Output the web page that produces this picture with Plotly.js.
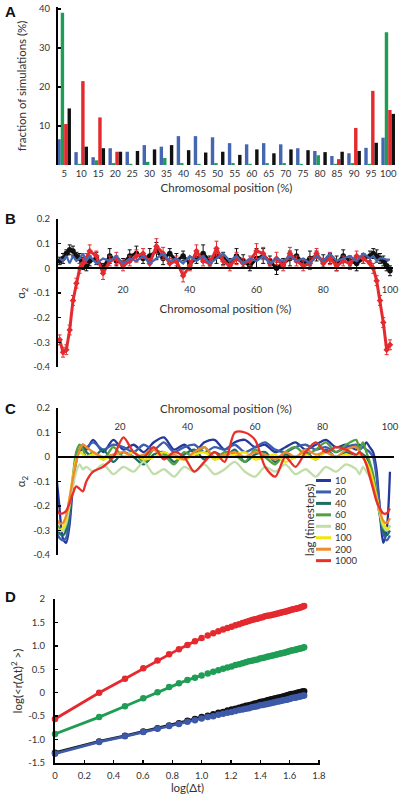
<!DOCTYPE html>
<html><head><meta charset="utf-8">
<script src="https://cdn.plot.ly/plotly-3.0.1.min.js"></script>
<style>html,body{margin:0;padding:0;background:#fff;}#chart{width:400px;height:796px;}</style>
</head><body><div id="chart"></div>
<script>
// ---------- Panel A data ----------
const posA = [5,10,15,20,25,30,35,40,45,50,55,60,65,70,75,80,85,90,95,100];
const blueA = [6.6,3.3,2.0,4.3,3.4,5.1,4.7,7.4,7.4,7.1,5.6,5.3,5.6,5.3,4.3,3.6,2.3,3.0,4.4,7.0];
const greenA = [39,0.3,1.2,0.5,0.3,0.8,1.8,0.5,0.3,0.5,0.5,0.3,0.5,0.5,0.3,2.5,0.3,0.5,0.3,34];
const redA = [10.5,21.5,12.2,3.4,0,0,0,0,0,0,0,0,0,0,0,0,1.5,9.5,19,14.1];
const blackA = [14.5,4.7,4.3,3.4,3.6,4.0,5.1,3.8,3.2,3.4,2.6,4.0,3.0,4.0,3.8,3.3,3.4,3.6,5.7,13.1];

// ---------- Panel B data ----------
const xB = [1,2,3,4,5,6,7,8,9,10,12,14,16,18,20,22,24,26,28,30,32,34,36,38,40,42,44,46,48,50,52,54,56,58,60,62,64,66,68,70,72,74,76,78,80,82,84,86,88,90,92,94,95,96,97,98,99,100];
const blackB = [0.03,0.04,0.06,0.075,0.07,0.05,0.04,0.02,0.01,0.03,
  0.04,0.0,0.05,0.03,0.02,0.05,0.06,0.04,0.05,0.07,
  0.04,0.06,0.03,0.05,0.02,0.04,0.06,0.03,0.05,0.04,
  0.02,0.05,0.03,0.01,0.04,0.05,0.03,0.0,0.02,0.04,
  0.05,0.02,0.04,0.05,0.03,0.04,0.02,0.05,0.03,0.02,0.04,
  0.05,0.06,0.05,0.04,0.03,0.01,-0.01];
const blackErrB = [0.015,0.02,0.015,0.02,0.02,0.015,0.02,0.025,0.02,0.02,
  0.025,0.02,0.03,0.02,0.02,0.025,0.03,0.02,0.03,0.035,
  0.025,0.02,0.03,0.02,0.025,0.02,0.035,0.02,0.03,0.025,
  0.02,0.03,0.025,0.02,0.04,0.03,0.02,0.025,0.02,0.03,
  0.025,0.02,0.03,0.02,0.025,0.02,0.03,0.025,0.02,0.03,0.02,
  0.02,0.02,0.025,0.02,0.02,0.02,0.02];
const redB = [-0.29,-0.34,-0.33,-0.25,-0.13,-0.06,0.0,0.02,0.04,0.07,
  0.05,-0.02,0.03,0.04,0.01,0.03,0.05,0.06,0.02,0.09,
  0.06,0.02,0.03,-0.03,0.01,0.07,0.03,0.02,0.08,0.03,
  0.01,0.04,0.02,0.03,0.07,0.06,0.02,0.04,0.01,0.06,
  0.03,0.01,0.02,0.06,0.02,0.04,0.01,0.03,0.02,0.05,0.04,
  0.02,0.0,-0.05,-0.13,-0.22,-0.33,-0.31];
const redErrB = [0.02,0.02,0.02,0.02,0.02,0.02,0.02,0.02,0.02,0.025,
  0.02,0.025,0.02,0.025,0.02,0.02,0.025,0.02,0.02,0.03,
  0.025,0.02,0.02,0.025,0.02,0.025,0.02,0.02,0.03,0.02,
  0.02,0.025,0.02,0.02,0.03,0.025,0.02,0.025,0.02,0.025,
  0.02,0.02,0.025,0.02,0.02,0.025,0.02,0.02,0.025,0.02,0.02,
  0.02,0.02,0.02,0.02,0.02,0.02,0.02];
const blueB = [0.04,0.03,0.05,0.02,0.05,0.03,0.04,0.06,0.03,0.05,
  0.02,0.04,0.03,0.05,0.02,0.04,0.03,0.05,0.02,0.04,
  0.06,0.03,0.04,0.02,0.05,0.03,0.05,0.02,0.04,0.06,
  0.03,0.05,0.02,0.04,0.03,0.05,0.02,0.04,0.03,0.05,
  0.03,0.04,0.02,0.05,0.03,0.06,0.03,0.04,0.05,0.03,0.06,
  0.04,0.05,0.03,0.04,0.04,0.035,0.035];

// ---------- Panel C data ----------
const xC = [1,2,3,4,5,6,7,8,9,10,12,15,18,21,24,27,30,33,36,39,42,45,48,51,54,57,60,63,66,69,72,75,78,81,84,87,90,91,92,93,94,95,96,97,98,99,100];
const lagLabels = ['10','20','40','60','80','100','200','1000'];
const lag10 = [-0.06,-0.2,-0.33,-0.35,-0.28,-0.12,0.0,0.02,0.04,0.03,
  0.07,0.02,0.07,0.03,0.05,0.02,0.06,0.08,0.03,0.05,0.02,0.06,0.07,0.03,0.06,0.07,0.04,0.05,0.02,0.04,0.06,0.03,0.05,0.07,0.04,0.05,
  0.03,0.05,0.04,0.06,0.04,0.02,-0.05,-0.22,-0.35,-0.3,-0.06];
const lag20 = [-0.3,-0.33,-0.34,-0.33,-0.25,-0.1,0.0,0.03,0.05,0.04,
  0.06,0.03,0.05,0.04,0.02,0.05,0.03,0.06,0.02,0.04,0.05,0.02,0.04,0.03,0.05,0.02,0.04,0.06,0.03,0.02,0.04,0.05,0.03,0.04,0.02,0.04,
  0.05,0.03,0.04,0.03,0.02,0.0,-0.08,-0.2,-0.31,-0.34,-0.32];
const lag40 = [-0.28,-0.31,-0.32,-0.3,-0.22,-0.1,-0.02,0.03,0.04,0.02,
  0.0,0.03,-0.02,0.02,0.0,-0.03,0.01,0.02,-0.02,0.01,0.03,-0.01,0.02,0.0,0.03,-0.02,0.01,0.02,-0.02,0.01,0.0,0.02,-0.01,0.03,0.0,0.02,
  0.0,0.02,0.01,0.0,-0.03,-0.08,-0.16,-0.24,-0.3,-0.32,-0.3];
const lag60 = [-0.27,-0.29,-0.3,-0.28,-0.2,-0.08,0.02,0.05,0.03,0.0,
  0.02,-0.01,0.04,0.0,0.02,-0.02,0.03,0.01,-0.03,0.02,0.0,0.04,-0.01,0.02,0.01,-0.02,0.03,0.0,-0.03,0.02,0.04,0.01,0.03,0.06,0.02,0.05,
  0.07,0.03,0.06,0.02,-0.02,-0.07,-0.15,-0.23,-0.29,-0.3,-0.28];
const lag80 = [-0.28,-0.3,-0.3,-0.27,-0.2,-0.12,-0.06,-0.03,-0.05,-0.04,
  -0.06,-0.03,-0.07,-0.04,-0.06,-0.02,-0.07,-0.05,-0.08,-0.04,-0.06,-0.03,-0.07,-0.05,-0.02,-0.06,-0.08,-0.04,-0.06,-0.03,-0.07,-0.05,-0.08,-0.04,-0.06,-0.03,
  -0.05,-0.07,-0.04,-0.06,-0.08,-0.12,-0.17,-0.23,-0.28,-0.3,-0.28];
const lag100 = [-0.29,-0.3,-0.29,-0.25,-0.17,-0.08,-0.01,0.02,0.01,0.0,
  0.01,-0.01,0.01,0.0,0.02,-0.01,0.0,0.02,0.0,-0.01,0.01,0.02,-0.01,0.0,0.01,0.02,-0.01,0.0,0.01,-0.02,0.0,0.01,-0.01,0.02,0.0,0.01,
  0.0,0.01,0.0,-0.02,-0.05,-0.1,-0.16,-0.22,-0.27,-0.29,-0.29];
const lag200 = [-0.25,-0.27,-0.27,-0.24,-0.17,-0.09,-0.02,0.03,0.05,0.04,
  0.02,0.0,0.01,0.02,0.0,0.01,0.03,0.0,0.01,-0.01,0.02,0.04,0.0,0.01,0.02,0.0,0.02,0.01,-0.01,0.02,0.0,0.03,0.01,0.02,0.0,0.03,
  0.04,0.02,0.0,-0.03,-0.07,-0.12,-0.17,-0.22,-0.26,-0.27,-0.25];
const lag1000 = [-0.21,-0.23,-0.23,-0.22,-0.19,-0.15,-0.12,-0.13,-0.14,-0.1,
  -0.06,-0.04,0.0,0.08,0.02,0.0,0.04,-0.01,0.02,0.0,-0.06,-0.02,0.02,-0.02,0.1,0.1,0.07,-0.04,-0.08,0.0,-0.04,0.02,0.06,0.02,0.04,0.03,
  0.01,0.02,0.0,-0.03,-0.08,-0.13,-0.18,-0.21,-0.23,-0.23,-0.21];

// ---------- Panel D data ----------
const dtD = [1,2,3,4,5,6,7,8,9,10,11,12,13,14,15,16,17,18,19,20,21,22,23,24,25,26,27,28,29,30,31,32,33,34,35,36,37,38,39,40,41,42,43,44,45,46,47,48,49,50];
const redD = [-0.56,0.0,0.30,0.52,0.69,0.82,0.93,1.02,1.10,1.17,1.22,1.27,1.31,1.35,1.38,1.41,1.44,1.46,1.49,1.51,1.53,1.55,1.57,1.58,1.60,1.61,1.63,1.64,1.65,1.66,1.67,1.68,1.69,1.70,1.71,1.72,1.73,1.74,1.75,1.76,1.77,1.78,1.785,1.79,1.80,1.81,1.82,1.83,1.84,1.85];
const greenD = [-0.88,-0.52,-0.29,-0.12,0.01,0.12,0.20,0.27,0.32,0.37,0.41,0.45,0.48,0.51,0.54,0.56,0.59,0.61,0.63,0.65,0.67,0.68,0.70,0.71,0.73,0.74,0.75,0.77,0.78,0.79,0.80,0.81,0.82,0.83,0.84,0.85,0.86,0.87,0.88,0.89,0.90,0.905,0.91,0.92,0.93,0.94,0.945,0.95,0.96,0.97];
const blackD = [-1.28,-1.04,-0.92,-0.83,-0.76,-0.70,-0.65,-0.60,-0.56,-0.52,-0.49,-0.46,-0.43,-0.41,-0.38,-0.36,-0.34,-0.32,-0.30,-0.28,-0.27,-0.25,-0.23,-0.22,-0.20,-0.19,-0.18,-0.16,-0.15,-0.14,-0.13,-0.12,-0.11,-0.10,-0.09,-0.08,-0.07,-0.06,-0.05,-0.04,-0.03,-0.025,-0.02,-0.01,0.0,0.005,0.01,0.02,0.025,0.03];
const blueD = [-1.30,-1.05,-0.93,-0.84,-0.77,-0.71,-0.67,-0.62,-0.59,-0.55,-0.52,-0.50,-0.47,-0.45,-0.43,-0.41,-0.39,-0.37,-0.36,-0.34,-0.33,-0.31,-0.30,-0.29,-0.27,-0.26,-0.25,-0.24,-0.23,-0.22,-0.21,-0.20,-0.19,-0.18,-0.17,-0.16,-0.155,-0.15,-0.14,-0.13,-0.12,-0.11,-0.105,-0.10,-0.09,-0.085,-0.08,-0.07,-0.065,-0.06];

// ---------- styles ----------
const W = 400, H = 796;
const fx = p => p / W;
const fy = p => 1 - p / H;
const cBlue = '#4566b0', cGreen = '#1f9d55', cRed = '#e42a2f', cBlack = '#111111';
const lagColors = ['#26399a','#3d5eb0','#1d6d60','#52a040','#c2dea8','#f4e40c','#ef8a2e','#e8302b'];
const logDt = dtD.map(v => Math.log10(v));

const traces = [];
// Panel A
[[blueA,cBlue],[greenA,cGreen],[redA,cRed],[blackA,cBlack]].forEach(([v,c]) => {
  traces.push({type:'bar', x:posA, y:v, xaxis:'x', yaxis:'y', marker:{color:c, line:{width:0}}});
});
// Panel B
traces.push({type:'scatter', mode:'lines+markers', x:xB, y:blackB, xaxis:'x2', yaxis:'y2',
  line:{color:cBlack, width:3.2}, marker:{color:cBlack, size:5.5},
  error_y:{type:'data', array:blackErrB, color:cBlack, thickness:1, width:2}, cliponaxis:false});
traces.push({type:'scatter', mode:'lines+markers', x:xB, y:redB, xaxis:'x2', yaxis:'y2',
  line:{color:cRed, width:3}, marker:{color:cRed, size:5, symbol:'diamond'},
  error_y:{type:'data', array:redErrB, color:cRed, thickness:1, width:2}, cliponaxis:false});
traces.push({type:'scatter', mode:'lines', x:xB, y:blueB, xaxis:'x2', yaxis:'y2',
  line:{color:cBlue, width:2.2}, cliponaxis:false});
// Panel C
[lag10,lag20,lag40,lag60,lag80,lag100,lag200,lag1000].forEach((v,i) => {
  traces.push({type:'scatter', mode:'lines', x:xC, y:v, xaxis:'x3', yaxis:'y3',
    line:{color:lagColors[i], width:2.3, shape:'spline', smoothing:0.8}});
});
// Panel D
[[blackD,cBlack],[blueD,'#3d59a8'],[greenD,cGreen],[redD,cRed]].forEach(([v,c]) => {
  traces.push({type:'scatter', mode:'lines', x:logDt.slice(0,10), y:v.slice(0,10), xaxis:'x4', yaxis:'y4',
    line:{color:c, width:2.8}, cliponaxis:false});
  traces.push({type:'scatter', mode:'markers', x:logDt, y:v, xaxis:'x4', yaxis:'y4',
    marker:{color:c, size:6.5}, cliponaxis:false});
});

const tickFont = {size:9.5, color:'#333'};
const titleFont = {size:11.5, color:'#333'};
const yBase = {showline:true, linewidth:2, linecolor:'black', ticks:'inside', ticklen:3, tickwidth:1.5, tickcolor:'black',
  showgrid:false, zeroline:false, tickfont:tickFont, ticklabelstandoff:4};
const alphaTicks = {tickvals:[-0.4,-0.3,-0.2,-0.1,0,0.1,0.2], ticktext:['-0.4','-0.3','-0.2','-0.1','0','0.1','0.2']};

const annotations = [
  {text:'<b>A</b>', x:fx(3), y:fy(12)},
  {text:'<b>B</b>', x:fx(3), y:fy(218)},
  {text:'<b>C</b>', x:fx(3), y:fy(408)},
  {text:'<b>D</b>', x:fx(3), y:fy(596)}
].map(a => Object.assign({xref:'paper', yref:'paper', xanchor:'left', yanchor:'middle', showarrow:false,
  font:{family:'Liberation Sans, Arial, sans-serif', size:15, color:'#111'}}, a));

// Legend for panel C (compact key)
const shapes = [];
lagLabels.forEach((lab,i) => {
  const py = 480.5 + i*11.45;
  shapes.push({type:'line', xref:'paper', yref:'paper', x0:fx(316), x1:fx(331), y0:fy(py), y1:fy(py),
    line:{color:lagColors[i], width:3}});
  annotations.push({text:lab, xref:'paper', yref:'paper', x:fx(333), y:fy(py), xanchor:'left', yanchor:'middle',
    showarrow:false, font:{size:9.5, color:'#333'}});
});
annotations.push({text:'lag (timesteps)', xref:'paper', yref:'paper', x:fx(309), y:fy(520), textangle:-90,
  xanchor:'center', yanchor:'middle', showarrow:false, font:{size:11.5, color:'#333'}});

const layout = {
  width:W, height:H, margin:{l:0,r:0,t:0,b:0}, showlegend:false,
  paper_bgcolor:'white', plot_bgcolor:'rgba(0,0,0,0)',
  font:{family:'Lato, "Open Sans", sans-serif', size:9.5, color:'#333'},
  barmode:'group', bargap:0.2, bargroupgap:0,
  xaxis:{domain:[fx(58),fx(395)], range:[3.2,102], anchor:'y', showline:false, ticks:'', tickvals:posA,
    showgrid:false, zeroline:false, tickfont:tickFont, ticklabelstandoff:1,
    title:{text:'Chromosomal position (%)', font:titleFont, standoff:6}},
  yaxis:Object.assign({}, yBase, {domain:[fy(165),fy(7)], range:[0,40.5], anchor:'x', tickvals:[10,20,30,40],
    title:{text:'fraction of simulations (%)', font:titleFont, standoff:10}}),
  xaxis2:{domain:[fx(58),fx(393)], range:[0.5,100.9], anchor:'free', position:fy(268.3), side:'bottom',
    showline:true, linewidth:2, linecolor:'black', ticks:'', tickvals:[20,40,60,80,100], showgrid:false, zeroline:false,
    tickfont:tickFont, ticklabelstandoff:12, title:{text:'Chromosomal position (%)', font:titleFont, standoff:10}},
  yaxis2:Object.assign({}, yBase, alphaTicks, {domain:[fy(367),fy(219)], range:[-0.4,0.2], anchor:'x2',
    title:{text:'α<sub>2</sub>', font:titleFont, standoff:5}}),
  xaxis3:{domain:[fx(58),fx(394)], range:[1.6,101.2], anchor:'free', position:fy(457), side:'top',
    showline:true, linewidth:2, linecolor:'black', ticks:'', tickvals:[20,40,60,80,100], showgrid:false, zeroline:false,
    tickfont:tickFont, ticklabelstandoff:22, title:{text:'Chromosomal position (%)', font:titleFont, standoff:4}},
  yaxis3:Object.assign({}, yBase, alphaTicks, {domain:[fy(555),fy(408)], range:[-0.4,0.2], anchor:'x3',
    title:{text:'α<sub>2</sub>', font:titleFont, standoff:5}}),
  xaxis4:Object.assign({}, yBase, {domain:[fx(55),fx(320)], range:[0,1.807], anchor:'y4',
    tickvals:[0,0.2,0.4,0.6,0.8,1.0,1.2,1.4,1.6,1.8], ticktext:['0','0.2','0.4','0.6','0.8','1.0','1.2','1.4','1.6','1.8'],
    ticklabelstandoff:3, title:{text:'log(Δt)', font:titleFont, standoff:2}}),
  yaxis4:Object.assign({}, yBase, {domain:[fy(763),fy(599)], range:[-1.5,2.0], anchor:'x4',
    tickvals:[-1.5,-1,-0.5,0,0.5,1,1.5,2], ticktext:['-1.5','-1.0','-0.5','0','0.5','1.0','1.5','2'],
    ticklabelstandoff:6, title:{text:'log(&lt;r(Δt)<sup>2</sup> &gt;)', font:titleFont, standoff:3}}),
  annotations:annotations, shapes:shapes
};

Plotly.newPlot('chart', traces, layout, {displayModeBar:false, staticPlot:true});
</script></body></html>
